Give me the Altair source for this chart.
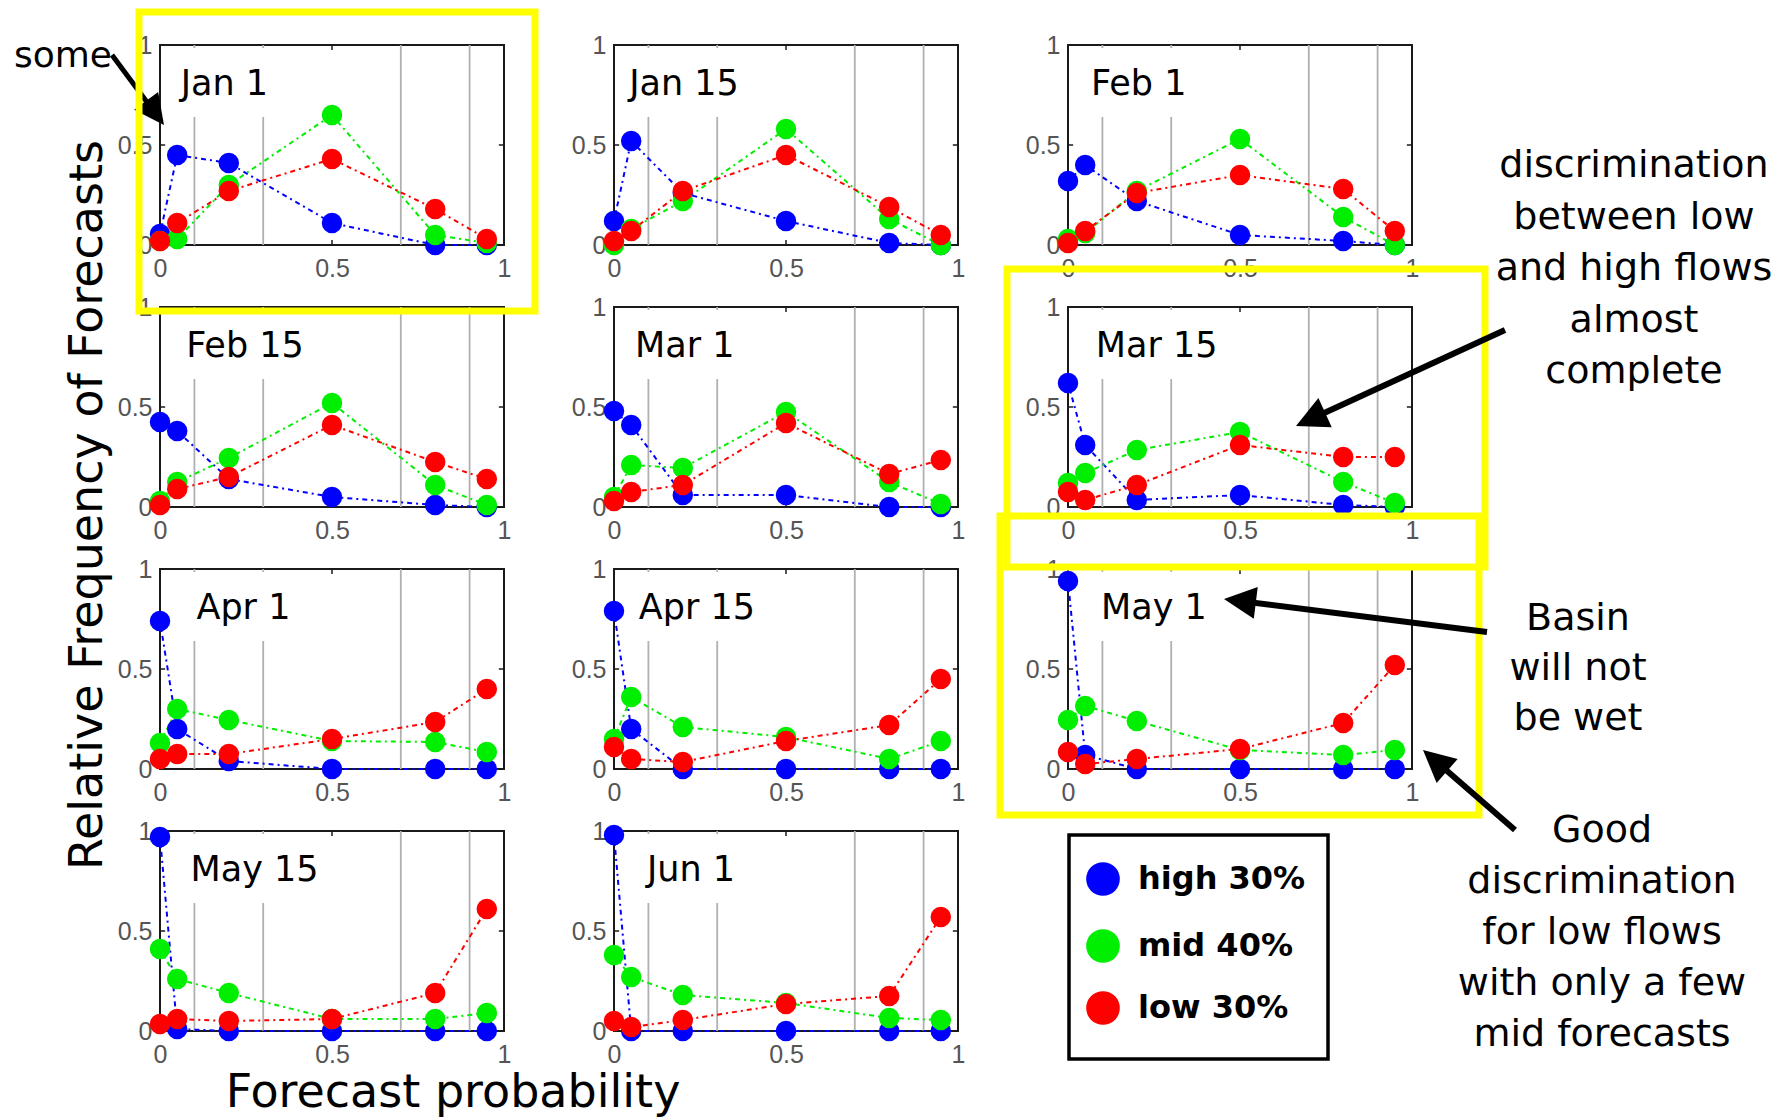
import math
import altair as alt
import pandas as pd

# ---------------- data ----------------
PROBS = [0.0, 0.05, 0.2, 0.5, 0.8, 0.95]
DATES = ["Jan 1", "Jan 15", "Feb 1", "Feb 15", "Mar 1", "Mar 15",
         "Apr 1", "Apr 15", "May 1", "May 15", "Jun 1"]
SERIES = ["high 30%", "mid 40%", "low 30%"]
COLORS = ["#0000ff", "#00ee00", "#ff0000"]

HIGH = [
    [0.055, 0.45, 0.41, 0.11, 0.0, 0.0],
    [0.12, 0.52, 0.26, 0.12, 0.01, 0.0],
    [0.32, 0.40, 0.22, 0.05, 0.02, 0.0],
    [0.425, 0.38, 0.14, 0.05, 0.01, 0.0],
    [0.48, 0.41, 0.06, 0.06, 0.0, 0.0],
    [0.62, 0.31, 0.035, 0.06, 0.01, 0.0],
    [0.74, 0.20, 0.04, 0.0, 0.0, 0.0],
    [0.79, 0.20, 0.0, 0.0, 0.0, 0.0],
    [0.94, 0.07, 0.0, 0.0, 0.0, 0.0],
    [0.97, 0.01, 0.0, 0.0, 0.0, 0.0],
    [0.98, 0.0, 0.0, 0.0, 0.0, 0.0],
]
MID = [
    [0.02, 0.03, 0.30, 0.65, 0.05, 0.01],
    [0.0, 0.08, 0.22, 0.58, 0.13, 0.0],
    [0.03, 0.06, 0.27, 0.53, 0.14, 0.0],
    [0.03, 0.125, 0.245, 0.52, 0.11, 0.01],
    [0.05, 0.21, 0.195, 0.475, 0.125, 0.015],
    [0.12, 0.17, 0.285, 0.375, 0.125, 0.02],
    [0.13, 0.30, 0.245, 0.14, 0.135, 0.085],
    [0.15, 0.36, 0.21, 0.16, 0.05, 0.14],
    [0.245, 0.315, 0.24, 0.095, 0.07, 0.095],
    [0.41, 0.26, 0.19, 0.06, 0.06, 0.09],
    [0.38, 0.27, 0.18, 0.14, 0.065, 0.055],
]
LOW = [
    [0.02, 0.11, 0.27, 0.43, 0.18, 0.03],
    [0.02, 0.07, 0.27, 0.45, 0.19, 0.05],
    [0.01, 0.07, 0.26, 0.35, 0.28, 0.07],
    [0.01, 0.09, 0.15, 0.41, 0.225, 0.14],
    [0.03, 0.075, 0.11, 0.42, 0.165, 0.235],
    [0.075, 0.035, 0.11, 0.31, 0.25, 0.25],
    [0.05, 0.075, 0.075, 0.15, 0.235, 0.40],
    [0.11, 0.05, 0.035, 0.14, 0.22, 0.45],
    [0.085, 0.025, 0.05, 0.10, 0.23, 0.52],
    [0.035, 0.06, 0.05, 0.06, 0.19, 0.61],
    [0.05, 0.02, 0.055, 0.135, 0.175, 0.57],
]
GRID_X = [0.1, 0.3, 0.7, 0.9]
TICKS = [0, 0.5, 1]

NOTE_A = ["discrimination", "between low", "and high flows", "almost", "complete"]
NOTE_B = ["Basin", "will not", "be wet"]
NOTE_C = ["Good", "discrimination", "for low flows", "with only a few", "mid forecasts"]

# ---------------- layout ----------------
W, H = 344, 200
OX, OY = 612, 829                 # top-left of last panel (Jun 1) in figure px
LABEL_X = [0.06, 0.044, 0.067, 0.076, 0.061, 0.081, 0.106, 0.072, 0.096, 0.089, 0.096]
FONT = "DejaVu Sans"

xs = alt.Scale(domain=[0, 1], nice=False, zero=False)
ys = alt.Scale(domain=[0, 1], nice=False, zero=False)
ax_x = alt.Axis(title=None, values=TICKS, format="~g", labelPadding=11)
ax_y = alt.Axis(title=None, values=TICKS, format="~g", labelPadding=8)


def X(f):
    return alt.X(f, type="quantitative", scale=xs, axis=ax_x)


def Y(f):
    return alt.Y(f, type="quantitative", scale=ys, axis=ax_y)


stroke_scale = alt.Scale(domain=SERIES, range=COLORS)
fill_scale = alt.Scale(domain=SERIES, range=COLORS)

one = pd.DataFrame({"k": [0]})


def px(x):
    return x - OX


def py(y):
    return y - OY


def annotations():
    out = []
    out.append(alt.Chart(one).mark_text(text="some", align="left", baseline="alphabetic",
                                        font=FONT, fontSize=36, color="black")
               .encode(x=alt.value(px(12)), y=alt.value(py(65))))
    out.append(alt.Chart(one).mark_text(text="Relative Frequency of Forecasts", align="center",
                                        baseline="alphabetic", angle=270, font=FONT,
                                        fontSize=46, color="black")
               .encode(x=alt.value(px(100)), y=alt.value(py(503))))
    out.append(alt.Chart(one).mark_text(text="Forecast probability", align="center",
                                        baseline="alphabetic", font=FONT, fontSize=46,
                                        color="black")
               .encode(x=alt.value(px(451)), y=alt.value(py(1105))))
    for lines, cx, cy, lh in [(NOTE_A, 1632, 175, 51.5), (NOTE_B, 1576, 628, 50),
                              (NOTE_C, 1600, 840, 51)]:
        out.append(alt.Chart(one).mark_text(text=lines, align="center", baseline="alphabetic",
                                            lineHeight=lh, font=FONT, fontSize=38,
                                            color="black")
                   .encode(x=alt.value(px(cx)), y=alt.value(py(cy))))

    def box(x1, y1, x2, y2, color="#ffff00", sw=7, fill="transparent"):
        return (alt.Chart(one).mark_rect(fill=fill, stroke=color, strokeWidth=sw)
                .encode(x=alt.value(px(x1)), x2=alt.value(px(x2)),
                        y=alt.value(py(y1)), y2=alt.value(py(y2))))

    # legend box with the three series
    out.append(box(1067, 833, 1326, 1057, color="black", sw=3.5, fill="white"))
    for s, c, ly in zip(SERIES, COLORS, [877, 944, 1006]):
        out.append(alt.Chart(one).mark_circle(size=1134, color=c, opacity=1)
                   .encode(x=alt.value(px(1101)), y=alt.value(py(ly))))
        out.append(alt.Chart(one).mark_text(text=s, align="left", baseline="middle",
                                            font=FONT, fontSize=32, fontWeight="bold",
                                            color="black")
                   .encode(x=alt.value(px(1136)), y=alt.value(py(ly))))

    out.append(box(1005, 267, 1483, 565))
    out.append(box(998, 514, 1477, 813))
    arrows = [((110, 53), (162, 123), 30, 5), ((1503, 328), (1294, 424), 32, 6),
              ((1485, 630), (1222, 597), 32, 6), ((1513, 828), (1421, 748), 32, 6)]
    for (tx, ty), (hx, hy), hs, sw in arrows:
        dx, dy = hx - tx, hy - ty
        L = math.hypot(dx, dy)
        ux, uy = dx / L, dy / L
        cx, cy = hx - ux * hs / 2, hy - uy * hs / 2
        ang = math.degrees(math.atan2(ux, -uy)) % 360
        out.append(alt.Chart(one).mark_rule(color="black", strokeWidth=sw, strokeCap="butt")
                   .encode(x=alt.value(px(tx)), y=alt.value(py(ty)),
                           x2=alt.value(px(cx)), y2=alt.value(py(cy))))
        out.append(alt.Chart(one).mark_point(shape="M0,-1L1,1L-1,1Z", filled=True,
                                             size=hs * hs, angle=ang, color="black",
                                             opacity=1)
                   .encode(x=alt.value(px(cx)), y=alt.value(py(cy))))
    out.append(box(137, 10, 533, 309))
    # invisible anchor at the figure's top-left corner
    out.append(alt.Chart(one).mark_point(size=1, opacity=0)
               .encode(x=alt.value(px(0)), y=alt.value(py(0))))
    return out


def panel(i):
    recs = []
    for s, table in zip(SERIES, (HIGH, MID, LOW)):
        for p, v in zip(PROBS, table[i]):
            recs.append({"prob": p, "freq": v, "series": s, "line": s})
    df = pd.DataFrame(recs)
    grid = pd.DataFrame({"gx": GRID_X, "g0": [0.0] * len(GRID_X), "g1": [1.0] * len(GRID_X)})
    wbox = pd.DataFrame({"x1": [0.004], "x2": [0.36], "y1": [0.64], "y2": [0.985]})
    lab = pd.DataFrame({"lx": [LABEL_X[i]], "ly": [0.75], "t": [DATES[i]]})
    tk = pd.DataFrame({"x1": [0.5, 0.5, 0.0, 0.985], "x2": [0.5, 0.5, 0.015, 1.0],
                       "y1": [0.0, 0.975, 0.5, 0.5], "y2": [0.025, 1.0, 0.5, 0.5]})
    layers = [
        alt.Chart(grid).mark_rule(color="#b0b0b0", strokeWidth=1.8)
        .encode(x=X("gx"), y=Y("g0"), y2="g1"),
        alt.Chart(wbox).mark_rect(fill="white")
        .encode(x=X("x1"), x2="x2", y=Y("y1"), y2="y2"),
        alt.Chart(lab).mark_text(align="left", baseline="alphabetic", font=FONT,
                                 fontSize=35, color="black")
        .encode(x=X("lx"), y=Y("ly"), text="t:N"),
        alt.Chart(tk).mark_rule(color="#1a1a1a", strokeWidth=1.5)
        .encode(x=X("x1"), x2="x2", y=Y("y1"), y2="y2"),
        alt.Chart(df).mark_line(strokeDash=[5, 4, 2, 4], strokeWidth=2)
        .encode(x=X("prob"), y=Y("freq"),
                stroke=alt.Stroke("line:N", scale=stroke_scale, legend=None)),
        alt.Chart(df).mark_circle(size=420, opacity=1)
        .encode(x=X("prob"), y=Y("freq"),
                fill=alt.Fill("series:N", scale=fill_scale, legend=None)),
    ]
    if i == len(DATES) - 1:
        layers += annotations()
    return alt.layer(*layers).properties(width=W, height=H)


panels = [panel(i) for i in range(len(DATES))]

chart = (
    alt.concat(*panels, columns=3, spacing={"row": 62, "column": 110}, bounds="flush")
    .properties(padding=0)
    .configure_view(stroke="#1a1a1a", strokeWidth=2)
    .configure_axis(labelFont="Liberation Sans", labelFontSize=25, labelColor="#555555",
                    ticks=False, domain=False, grid=False, labelFlush=False,
                    labelOverlap=False)
)

chart.save("out.html", embed_options={"renderer": "svg", "actions": False})
